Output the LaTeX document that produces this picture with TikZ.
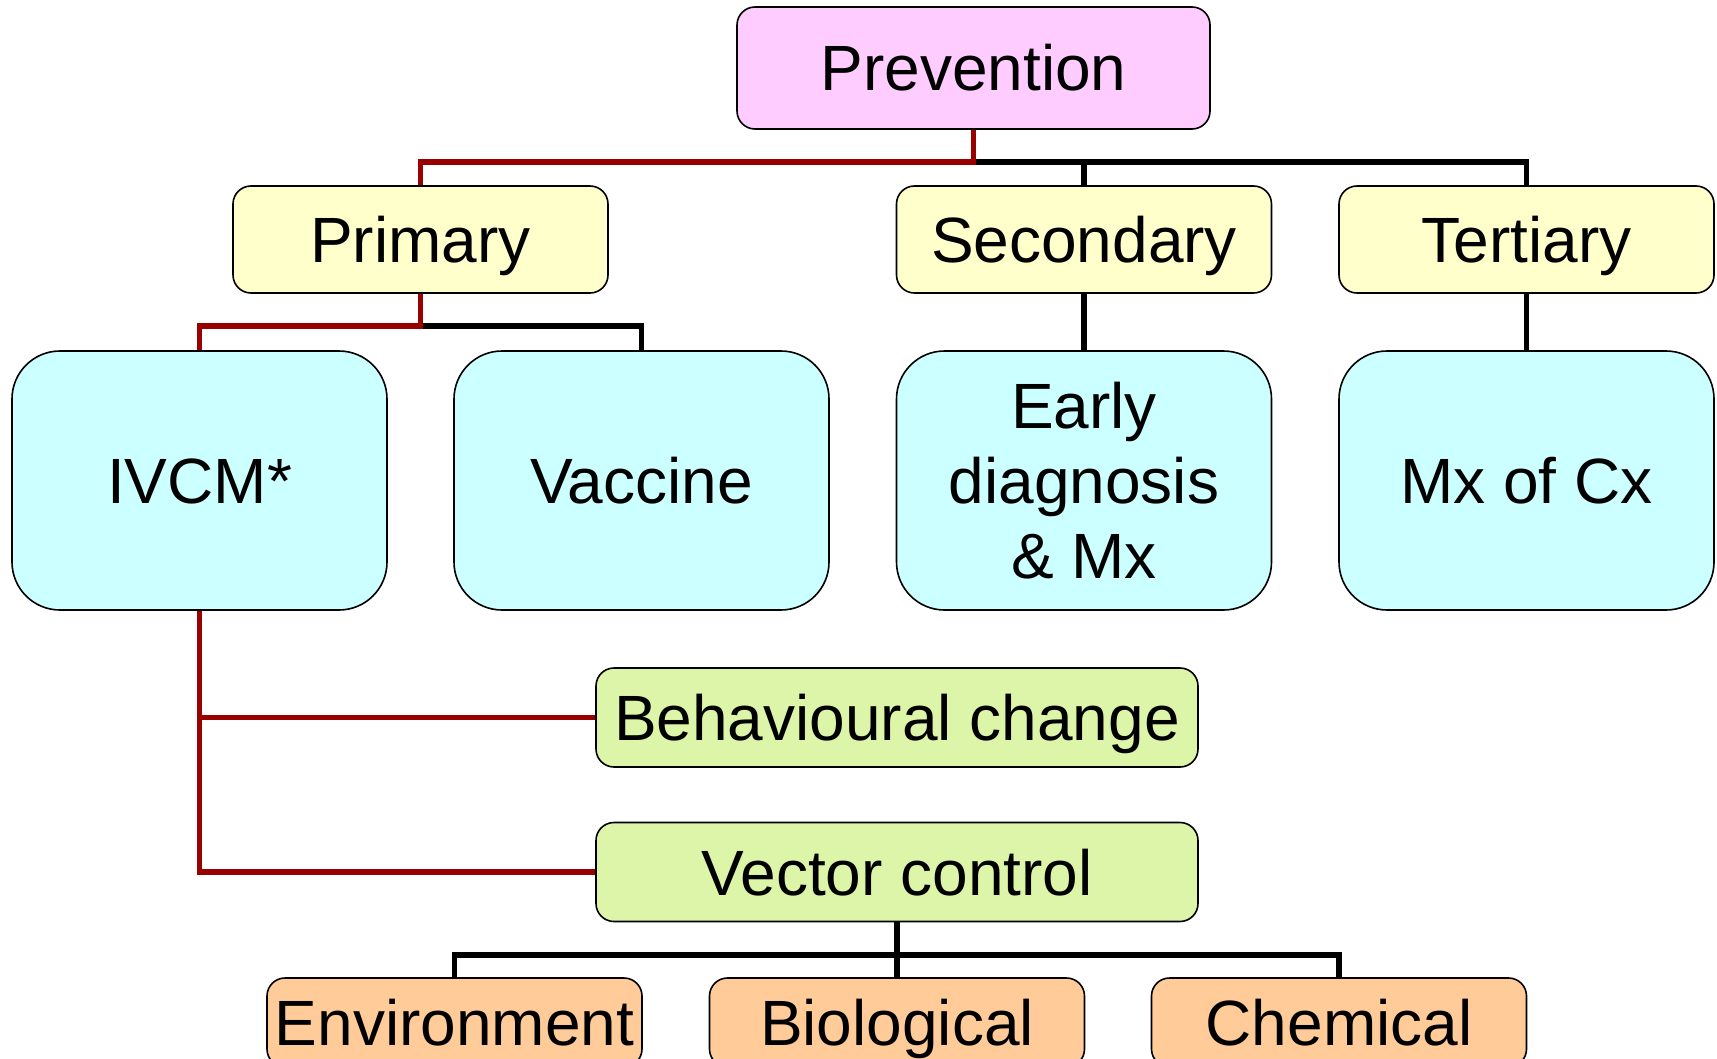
\documentclass[tikz,border=0pt]{standalone}
\usepackage{fontspec}
\setmainfont{Liberation Sans}
\definecolor{pinkfill}{HTML}{FFCCFF}
\definecolor{yelfill}{HTML}{FFFFCC}
\definecolor{cyanfill}{HTML}{CCFFFF}
\definecolor{greenfill}{HTML}{DDF5A8}
\definecolor{orangefill}{HTML}{FFCC99}
\definecolor{redline}{HTML}{990000}
\begin{document}
\begin{tikzpicture}[x=0.5pt,y=-0.5pt,
  box/.style={draw=black,line width=0.8pt,rounded corners=9pt,align=center,
     inner sep=0pt,font=\fontsize{32}{37.5}\selectfont,text height=23pt,text depth=0pt},
  smallbox/.style={box,minimum width=187.5pt,minimum height=53.5pt},
  bigbox/.style={box,minimum width=187.5pt,minimum height=129.5pt,rounded corners=24pt,fill=cyanfill},
  widebox/.style={box,minimum width=301pt,minimum height=49.5pt,fill=greenfill},
  botbox/.style={box,minimum width=187.5pt,minimum height=44.5pt,fill=orangefill},
  conn/.style={line width=2.6pt,line join=miter,black},
  rconn/.style={line width=2.6pt,line join=miter,redline}]
\useasboundingbox (0,0) rectangle (1717,1059);
\clip (0,0) rectangle (1717,1059);
% nodes
\node[box,fill=pinkfill,minimum width=236.5pt,minimum height=61pt] (prev) at (973.5,68) {Prevention};
\node[smallbox,fill=yelfill] (prim) at (420.5,239.5) {Primary};
\node[smallbox,fill=yelfill] (sec) at (1084,239.5) {Secondary};
\node[smallbox,fill=yelfill] (ter) at (1526.5,239.5) {Tertiary};
\node[bigbox] (ivcm) at (199.5,480.5) {IVCM*};
\node[bigbox] (vac) at (641.5,480.5) {Vaccine};
\node[bigbox,text height=,text depth=] (early) at (1084,480.5) {Early\\diagnosis\\\&~Mx};
\node[bigbox] (mx) at (1526.5,480.5) {Mx of Cx};
\node[widebox] (beh) at (897,717.5) {Behavioural change};
\node[widebox] (vec) at (897,872) {Vector control};
\node[botbox] (env) at (454.5,1022.5) {Environment};
\node[botbox] (bio) at (897,1022.5) {Biological};
\node[botbox] (chem) at (1339,1022.5) {Chemical};
% junction coordinates
\coordinate (j1) at (973.5,162);
\coordinate (j2) at (420.5,326);
\coordinate (j3) at (199.5,717.5);
\coordinate (j4) at (897,955);
% top level connectors
\draw[conn] (j1) -| (ter.north);
\draw[conn] (j1) -| (sec.north);
\draw[rconn] (prev.south) -- (j1) -| (prim.north);
% primary
\draw[conn] (j2) -| (vac.north);
\draw[rconn] (prim.south) -- (j2) -| (ivcm.north);
\draw[conn] (sec.south) -- (early.north);
\draw[conn] (ter.south) -- (mx.north);
% IVCM branch
\draw[rconn] (ivcm.south) |- (vec.west);
\draw[rconn] (j3) -- (beh.west);
% vector control
\draw[conn] (vec.south) -- (j4);
\draw[conn] (j4) -| (env.north);
\draw[conn] (j4) -| (chem.north);
\draw[conn] (j4) -- (bio.north);
\end{tikzpicture}
\end{document}
